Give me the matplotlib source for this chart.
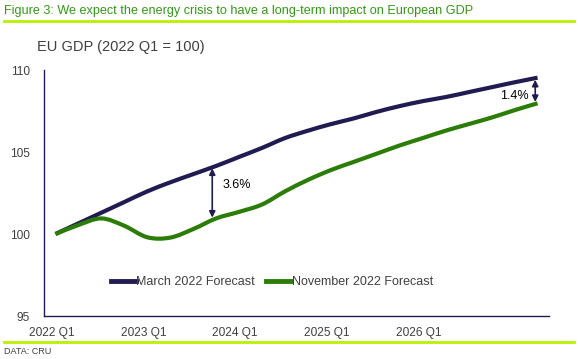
import matplotlib
matplotlib.use("Agg")
import matplotlib.pyplot as plt
import matplotlib.transforms as mtransforms
from matplotlib.path import Path
from matplotlib.patches import PathPatch
from matplotlib.lines import Line2D

plt.rcParams['font.family'] = ['Liberation Sans', 'DejaVu Sans']

# quarterly categories 2022 Q1 - 2027 Q2
quarters = ["2022 Q1", "2022 Q2", "2022 Q3", "2022 Q4",
            "2023 Q1", "2023 Q2", "2023 Q3", "2023 Q4",
            "2024 Q1", "2024 Q2", "2024 Q3", "2024 Q4",
            "2025 Q1", "2025 Q2", "2025 Q3", "2025 Q4",
            "2026 Q1", "2026 Q2", "2026 Q3", "2026 Q4",
            "2027 Q1", "2027 Q2"]

march_2022 = [100.0, 100.65, 101.3, 101.95, 102.6, 103.15, 103.65, 104.15,
              104.7, 105.25, 105.85, 106.3, 106.7, 107.05, 107.45, 107.8,
              108.1, 108.35, 108.65, 108.95, 109.25, 109.53]

nov_2022 = [100.0, 100.55, 100.95, 100.5, 99.8, 99.78, 100.3, 100.95,
            101.35, 101.8, 102.6, 103.3, 103.9, 104.4, 104.9, 105.4,
            105.85, 106.3, 106.7, 107.1, 107.55, 107.97]

# gap annotations: (quarter index, top, bottom, label, label y)
gap_notes = [(6.83, 104.0, 101.0, "3.6%", 103.0), (20.9, 109.4, 108.05, "1.4%", 108.4)]

navy = "#201c52"
green = "#2b7d07"
lime = "#b8f000"
grey = "#404040"


def smooth_path(xs, ys):
    # excel style smoothed line: bezier segments through every point
    pts = list(zip(xs, ys))
    verts = [pts[0]]
    codes = [Path.MOVETO]
    n = len(pts)
    for i in range(n - 1):
        p0 = pts[max(i - 1, 0)]
        p1 = pts[i]
        p2 = pts[i + 1]
        p3 = pts[min(i + 2, n - 1)]
        c1 = (p1[0] + (p2[0] - p0[0]) / 6, p1[1] + (p2[1] - p0[1]) / 6)
        c2 = (p2[0] - (p3[0] - p1[0]) / 6, p2[1] - (p3[1] - p1[1]) / 6)
        verts += [c1, c2, p2]
        codes += [Path.CURVE4] * 3
    return Path(verts, codes)


fig = plt.figure(figsize=(5.78, 3.59), dpi=100)
ax = fig.add_axes([44 / 578, 43 / 359, 505 / 578, 246 / 359])

x = list(range(len(quarters)))
for vals, col in [(march_2022, navy), (nov_2022, green)]:
    ax.add_patch(PathPatch(smooth_path(x, vals), fill=False, edgecolor=col, lw=3,
                           capstyle="butt", joinstyle="round"))

ax.set_xlim(-0.5, len(quarters) - 0.5)
ax.set_ylim(95, 110)
ax.set_yticks([95, 100, 105, 110])
ax.set_xticks(x[:17:4])
ax.set_xticklabels(quarters[:17:4])
ax.tick_params(length=0, labelsize=8.6, colors=grey, pad=8)
ax.tick_params(axis="y", pad=10)
shift = mtransforms.ScaledTranslation(-4 / 100, 0, fig.dpi_scale_trans)
for lab in ax.get_xticklabels():
    lab.set_transform(lab.get_transform() + shift)

for s in ["top", "right"]:
    ax.spines[s].set_visible(False)
for s in ["left", "bottom"]:
    ax.spines[s].set_color(navy)
    ax.spines[s].set_linewidth(1)

# gap arrows
for xi, top, bot, txt, ty in gap_notes:
    ax.annotate("", xy=(xi, top), xytext=(xi, bot),
                arrowprops=dict(arrowstyle="<|-|>", color=navy, lw=1.2,
                                mutation_scale=9, shrinkA=0, shrinkB=0))
ax.text(gap_notes[0][0] + 0.45, gap_notes[0][4], gap_notes[0][3],
        fontsize=9, color="black", va="center", ha="left")
ax.text(gap_notes[1][0] - 0.3, gap_notes[1][4], gap_notes[1][3],
        fontsize=9, color="black", va="center", ha="right")

handles = [Line2D([], [], color=navy, lw=3.5), Line2D([], [], color=green, lw=3.5)]
ax.legend(handles, ["March 2022 Forecast", "November 2022 Forecast"],
          loc="center", bbox_to_anchor=(0.451, 0.138), ncol=2, frameon=False,
          fontsize=9, handlelength=2.0, handletextpad=0.05, columnspacing=0.9,
          labelcolor=grey)

fig.text(4 / 578, 1 - 11 / 359, "Figure 3: We expect the energy crisis to have a long-term impact on European GDP",
         fontsize=9.1, color="#36961a", va="center", ha="left")
fig.add_artist(Line2D([4 / 578, 574 / 578], [1 - 21 / 359, 1 - 21 / 359], color=lime, lw=2))
fig.text(37 / 578, 1 - 47 / 359, "EU GDP (2022 Q1 = 100)", fontsize=10.5, color=grey,
         va="center", ha="left")
fig.add_artist(Line2D([4 / 578, 574 / 578], [1 - 342 / 359, 1 - 342 / 359], color=lime, lw=2))
fig.text(4 / 578, 1 - 352 / 359, "DATA: CRU", fontsize=6.5, color=grey, va="center", ha="left")

fig.savefig("out.png", dpi=100)
